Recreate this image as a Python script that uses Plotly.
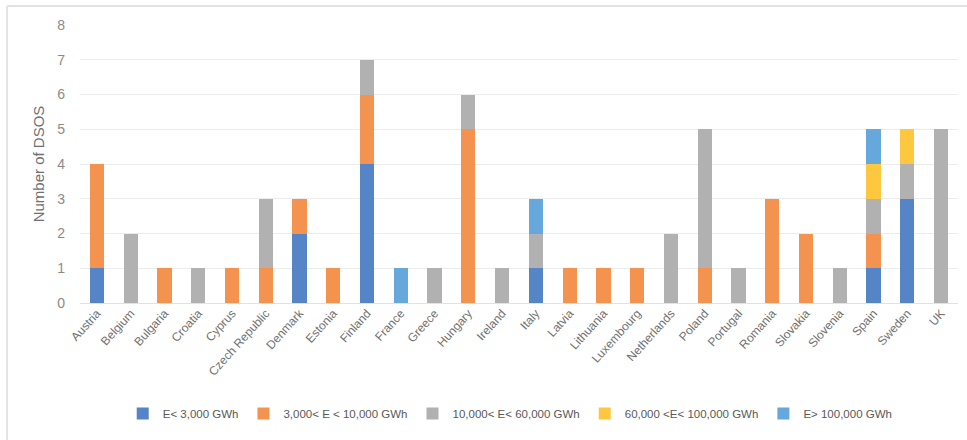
import plotly.graph_objects as go

countries = ["Austria", "Belgium", "Bulgaria", "Croatia", "Cyprus", "Czech Republic",
             "Denmark", "Estonia", "Finland", "France", "Greece", "Hungary", "Ireland",
             "Italy", "Latvia", "Lithuania", "Luxembourg", "Netherlands", "Poland",
             "Portugal", "Romania", "Slovakia", "Slovenia", "Spain", "Sweden", "UK"]

# DSOs per country, by annual energy distributed
e_lt_3000 =       [1, 0, 0, 0, 0, 0, 2, 0, 4, 0, 0, 0, 0, 1, 0, 0, 0, 0, 0, 0, 0, 0, 0, 1, 3, 0]
e_3000_10000 =    [3, 0, 1, 0, 1, 1, 1, 1, 2, 0, 0, 5, 0, 0, 1, 1, 1, 0, 1, 0, 3, 2, 0, 1, 0, 0]
e_10000_60000 =   [0, 2, 0, 1, 0, 2, 0, 0, 1, 0, 1, 1, 1, 1, 0, 0, 0, 2, 4, 1, 0, 0, 1, 1, 1, 5]
e_60000_100000 =  [0, 0, 0, 0, 0, 0, 0, 0, 0, 0, 0, 0, 0, 0, 0, 0, 0, 0, 0, 0, 0, 0, 0, 1, 1, 0]
e_gt_100000 =     [0, 0, 0, 0, 0, 0, 0, 0, 0, 1, 0, 0, 0, 1, 0, 0, 0, 0, 0, 0, 0, 0, 0, 1, 0, 0]

series = [
    ("E< 3,000 GWh", e_lt_3000, "#5585c6"),
    ("3,000< E < 10,000 GWh", e_3000_10000, "#f4934f"),
    ("10,000< E< 60,000 GWh", e_10000_60000, "#b1b1b1"),
    ("60,000 <E< 100,000 GWh", e_60000_100000, "#fdc73f"),
    ("E> 100,000 GWh", e_gt_100000, "#66a8dc"),
]

fig = go.Figure()
for name, vals, color in series:
    fig.add_trace(go.Bar(
        x=countries,
        y=[v if v else None for v in vals],
        name=name,
        marker=dict(color=color, line=dict(width=0)),
    ))

font_family = "Liberation Sans, Arial, sans-serif"

fig.update_layout(
    barmode="stack",
    bargap=0.58,
    width=967,
    height=440,
    margin=dict(l=80, r=9, t=25, b=137),
    paper_bgcolor="white",
    plot_bgcolor="white",
    font=dict(family=font_family, size=12, color="#595959"),
    xaxis=dict(
        tickangle=-48,
        tickfont=dict(size=12, color="#707070"),
        showgrid=False,
        showline=False,
        ticks="",
        automargin=False,
    ),
    yaxis=dict(
        range=[0, 8],
        dtick=1,
        tickfont=dict(size=14, color="#8a8a8a"),
        gridcolor="#ececec",
        gridwidth=1,
        zeroline=True,
        zerolinecolor="#e2e2e2",
        zerolinewidth=1,
        ticks="",
        ticklen=0,
        ticklabelstandoff=14,
        automargin=False,
        title=dict(text="Number of DSOS", font=dict(size=15, color="#707070"), standoff=8),
    ),
    legend=dict(
        orientation="h",
        x=0.49,
        xanchor="center",
        y=-0.345,
        yanchor="top",
        font=dict(size=11.5, color="#595959"),
        itemwidth=30,
        traceorder="normal",
        tracegroupgap=0,
    ),
    showlegend=True,
)

# light frame around the chart area
fig.add_shape(type="line", xref="paper", yref="paper",
              x0=-0.083, x1=1.02, y0=1.068, y1=1.068,
              line=dict(color="#e2e2e2", width=2))
fig.add_shape(type="line", xref="paper", yref="paper",
              x0=-0.083, x1=-0.083, y0=1.068, y1=-0.5,
              line=dict(color="#e2e2e2", width=2))

fig.write_html("out.html")
